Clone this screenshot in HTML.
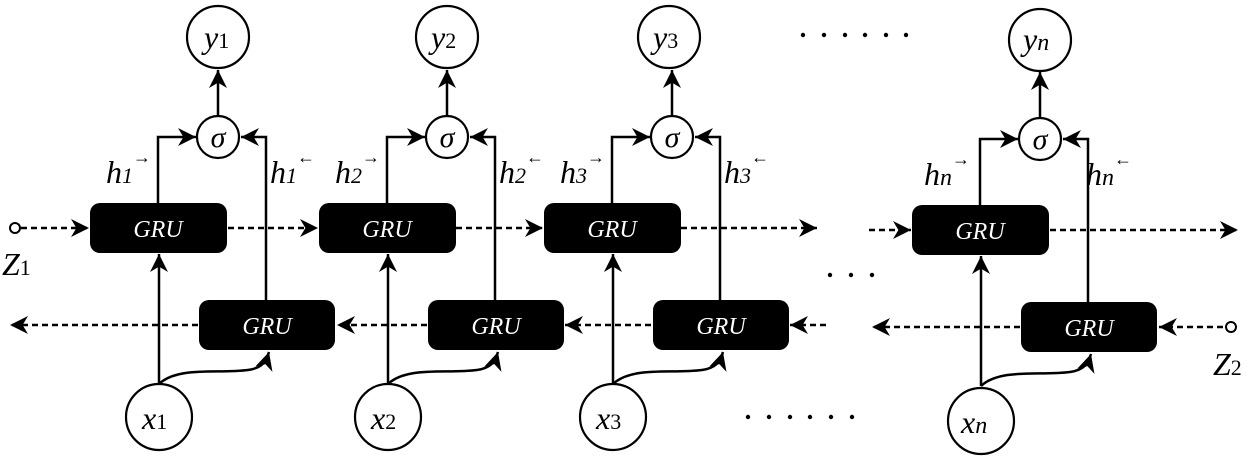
<!DOCTYPE html>
<html><head><meta charset="utf-8"><style>
html,body{margin:0;padding:0;background:#fff;}
svg{display:block;}
text{font-family:"Liberation Serif",serif;font-style:italic;}
</style></head><body>
<svg width="1250" height="459" viewBox="0 0 1250 459" xmlns="http://www.w3.org/2000/svg">
<defs>
<marker id="a" viewBox="0 0 10 10" refX="10" refY="5" markerWidth="18" markerHeight="18" markerUnits="userSpaceOnUse" orient="auto"><path d="M0,0 L10,5 L0,10 L3,5 z" fill="#000"/></marker>
</defs>
<g stroke="#000" stroke-width="2.5" fill="none">
<g stroke-dasharray="6,4">
<line x1="21" y1="228" x2="89" y2="228" marker-end="url(#a)"/>
<line x1="228" y1="228" x2="318" y2="228" marker-end="url(#a)"/>
<line x1="456" y1="228" x2="543" y2="228" marker-end="url(#a)"/>
<line x1="681" y1="228" x2="817" y2="228" marker-end="url(#a)"/>
<line x1="869" y1="230" x2="911" y2="230" marker-end="url(#a)"/>
<line x1="1050" y1="230" x2="1238" y2="230" marker-end="url(#a)"/>
<line x1="198" y1="325" x2="10" y2="325" marker-end="url(#a)"/>
<line x1="427" y1="325" x2="337" y2="325" marker-end="url(#a)"/>
<line x1="651" y1="325" x2="565" y2="325" marker-end="url(#a)"/>
<line x1="826" y1="325" x2="790" y2="325" marker-end="url(#a)"/>
<line x1="1020" y1="327" x2="872" y2="327" marker-end="url(#a)"/>
<line x1="1223" y1="327" x2="1159" y2="327" marker-end="url(#a)"/>
</g>
<circle cx="15" cy="228" r="5" stroke-width="2"/>
<circle cx="1231" cy="327" r="5" stroke-width="2"/>
</g>

<g transform="translate(158,0)">
<g stroke="#000" stroke-width="2.5" fill="none">
<polyline points="0,203 0,137 38,137" marker-end="url(#a)"/>
<polyline points="108,300 108,137 83,137" marker-end="url(#a)"/>
<line x1="60" y1="116" x2="60" y2="70" marker-end="url(#a)"/>
<line x1="1" y1="384" x2="1" y2="254" marker-end="url(#a)"/>
<path d="M1,384 C20,366 60,374 90,370 C104,368 108,362 111,352" marker-end="url(#a)"/>
<circle cx="60" cy="137" r="21" fill="#fff" stroke-width="2.2"/>
<circle cx="60" cy="37" r="31" fill="#fff" stroke-width="2.2"/>
<circle cx="1" cy="417" r="33" fill="#fff" stroke-width="2.2"/>
</g>
<rect x="-68" y="203" width="137" height="50" rx="10" fill="#000"/>
<rect x="41" y="300" width="136" height="50" rx="10" fill="#000"/>
<text x="0" y="237" fill="#fff" font-size="24" text-anchor="middle">GRU</text>
<text x="109" y="334" fill="#fff" font-size="24" text-anchor="middle">GRU</text>
<text x="60" y="147" font-size="30" text-anchor="middle">σ</text>
<text x="46" y="48" font-size="32">y<tspan font-style="normal" font-size="22">1</tspan></text>
<text x="-16" y="429" font-size="32">x<tspan font-style="normal" font-size="22">1</tspan></text>
<text x="-52" y="183" font-size="32">h<tspan font-size="22">1</tspan><tspan font-style="normal" font-size="18" dy="-20">→</tspan></text>
<text x="112" y="183" font-size="32">h<tspan font-size="22">1</tspan><tspan font-style="normal" font-size="18" dy="-20">←</tspan></text>
</g>

<g transform="translate(387,0)">
<g stroke="#000" stroke-width="2.5" fill="none">
<polyline points="0,203 0,137 38,137" marker-end="url(#a)"/>
<polyline points="108,300 108,137 83,137" marker-end="url(#a)"/>
<line x1="60" y1="116" x2="60" y2="70" marker-end="url(#a)"/>
<line x1="1" y1="384" x2="1" y2="254" marker-end="url(#a)"/>
<path d="M1,384 C20,366 60,374 90,370 C104,368 108,362 111,352" marker-end="url(#a)"/>
<circle cx="60" cy="137" r="21" fill="#fff" stroke-width="2.2"/>
<circle cx="60" cy="37" r="31" fill="#fff" stroke-width="2.2"/>
<circle cx="1" cy="417" r="33" fill="#fff" stroke-width="2.2"/>
</g>
<rect x="-68" y="203" width="137" height="50" rx="10" fill="#000"/>
<rect x="41" y="300" width="136" height="50" rx="10" fill="#000"/>
<text x="0" y="237" fill="#fff" font-size="24" text-anchor="middle">GRU</text>
<text x="109" y="334" fill="#fff" font-size="24" text-anchor="middle">GRU</text>
<text x="60" y="147" font-size="30" text-anchor="middle">σ</text>
<text x="44" y="48" font-size="32">y<tspan font-style="normal" font-size="22">2</tspan></text>
<text x="-16" y="429" font-size="32">x<tspan font-style="normal" font-size="22">2</tspan></text>
<text x="-52" y="183" font-size="32">h<tspan font-size="22">2</tspan><tspan font-style="normal" font-size="18" dy="-20">→</tspan></text>
<text x="112" y="183" font-size="32">h<tspan font-size="22">2</tspan><tspan font-style="normal" font-size="18" dy="-20">←</tspan></text>
</g>

<g transform="translate(612,0)">
<g stroke="#000" stroke-width="2.5" fill="none">
<polyline points="0,203 0,137 38,137" marker-end="url(#a)"/>
<polyline points="108,300 108,137 83,137" marker-end="url(#a)"/>
<line x1="60" y1="116" x2="60" y2="70" marker-end="url(#a)"/>
<line x1="1" y1="384" x2="1" y2="254" marker-end="url(#a)"/>
<path d="M1,384 C20,366 60,374 90,370 C104,368 108,362 111,352" marker-end="url(#a)"/>
<circle cx="60" cy="137" r="21" fill="#fff" stroke-width="2.2"/>
<circle cx="57" cy="37" r="31" fill="#fff" stroke-width="2.2"/>
<circle cx="1" cy="417" r="33" fill="#fff" stroke-width="2.2"/>
</g>
<rect x="-68" y="203" width="137" height="50" rx="10" fill="#000"/>
<rect x="41" y="300" width="136" height="50" rx="10" fill="#000"/>
<text x="0" y="237" fill="#fff" font-size="24" text-anchor="middle">GRU</text>
<text x="109" y="334" fill="#fff" font-size="24" text-anchor="middle">GRU</text>
<text x="60" y="147" font-size="30" text-anchor="middle">σ</text>
<text x="41" y="48" font-size="32">y<tspan font-style="normal" font-size="22">3</tspan></text>
<text x="-16" y="429" font-size="32">x<tspan font-style="normal" font-size="22">3</tspan></text>
<text x="-52" y="183" font-size="32">h<tspan font-size="22">3</tspan><tspan font-style="normal" font-size="18" dy="-20">→</tspan></text>
<text x="112" y="183" font-size="32">h<tspan font-size="22">3</tspan><tspan font-style="normal" font-size="18" dy="-20">←</tspan></text>
</g>

<g transform="translate(980,2)">
<g stroke="#000" stroke-width="2.5" fill="none">
<polyline points="0,203 0,137 38,137" marker-end="url(#a)"/>
<polyline points="108,300 108,137 83,137" marker-end="url(#a)"/>
<line x1="60" y1="116" x2="60" y2="70" marker-end="url(#a)"/>
<line x1="1" y1="384" x2="1" y2="254" marker-end="url(#a)"/>
<path d="M1,384 C20,366 60,374 90,370 C104,368 108,362 111,352" marker-end="url(#a)"/>
<circle cx="60" cy="137" r="21" fill="#fff" stroke-width="2.2"/>
<circle cx="60" cy="38" r="31" fill="#fff" stroke-width="2.2"/>
<circle cx="1" cy="419" r="33" fill="#fff" stroke-width="2.2"/>
</g>
<rect x="-68" y="203" width="137" height="50" rx="10" fill="#000"/>
<rect x="41" y="300" width="136" height="50" rx="10" fill="#000"/>
<text x="0" y="237" fill="#fff" font-size="24" text-anchor="middle">GRU</text>
<text x="109" y="334" fill="#fff" font-size="24" text-anchor="middle">GRU</text>
<text x="60" y="147" font-size="30" text-anchor="middle">σ</text>
<text x="43" y="48" font-size="32">y<tspan font-size="24">n</tspan></text>
<text x="-19" y="431" font-size="32">x<tspan font-size="24">n</tspan></text>
<text x="-56" y="183" font-size="32">h<tspan font-size="24">n</tspan><tspan font-style="normal" font-size="18" dy="-20">→</tspan></text>
<text x="106" y="183" font-size="32">h<tspan font-size="24">n</tspan><tspan font-style="normal" font-size="18" dy="-20">←</tspan></text>
</g>

<text x="2" y="275" font-size="32">Z<tspan font-style="normal" font-size="22">1</tspan></text>
<text x="1213" y="375" font-size="32">Z<tspan font-style="normal" font-size="22">2</tspan></text>

<g fill="#000">
<circle cx="803" cy="35" r="2.2"/><circle cx="824" cy="35" r="2.2"/><circle cx="845" cy="35" r="2.2"/><circle cx="865" cy="35" r="2.2"/><circle cx="886" cy="35" r="2.2"/><circle cx="906" cy="35" r="2.2"/>
<circle cx="830" cy="275" r="2.2"/><circle cx="851" cy="275" r="2.2"/><circle cx="872" cy="275" r="2.2"/>
<circle cx="748" cy="417" r="2.2"/><circle cx="769" cy="417" r="2.2"/><circle cx="790" cy="417" r="2.2"/><circle cx="810" cy="417" r="2.2"/><circle cx="831" cy="417" r="2.2"/><circle cx="852" cy="417" r="2.2"/>
</g>
</svg>
</body></html>
